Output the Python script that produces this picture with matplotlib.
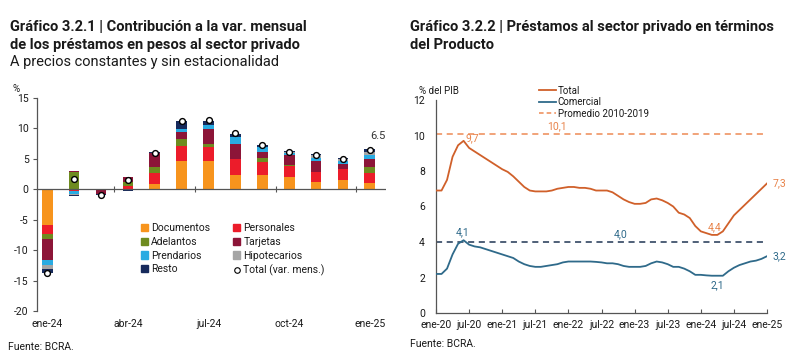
import matplotlib
matplotlib.use("Agg")
import matplotlib.pyplot as plt
import numpy as np
from matplotlib.patches import Patch
from matplotlib.lines import Line2D

plt.rcParams['font.family'] = ['Roboto', 'DejaVu Sans']

# ---------------- Data: left chart ----------------
meses = ['ene-24', 'feb-24', 'mar-24', 'abr-24', 'may-24', 'jun-24', 'jul-24',
         'ago-24', 'sep-24', 'oct-24', 'nov-24', 'dic-24', 'ene-25']
documentos = [-5.8, 0.0, 0.0, 0.1, 0.9, 4.7, 4.6, 2.3, 2.3, 2.0, 1.2, 1.6, 1.0]
personales = [-1.6, -0.2, -0.1, 0.5, 1.8, 2.4, 2.3, 2.6, 2.2, 1.9, 1.6, 1.7, 1.7]
adelantos = [-0.8, 2.8, 0.0, 0.6, 0.9, 1.2, 0.5, 0.0, 0.6, 0.1, 0.0, 0.0, 1.0]
tarjetas = [-3.5, 0.2, -0.6, 0.8, 2.4, 1.1, 2.5, 2.6, 1.1, 1.6, 1.9, 0.9, 1.2]
prendarios = [-0.8, -0.5, -0.1, 0.0, 0.0, 0.5, 0.7, 1.1, 0.7, 0.4, 0.5, 0.4, 0.8]
hipotecarios = [-0.6, -0.2, 0.0, 0.0, 0.0, 0.0, 0.0, 0.0, 0.0, 0.1, 0.4, 0.4, 0.4]
resto = [-0.6, -0.2, -0.1, -0.3, 0.2, 1.4, 0.6, 0.5, 0.3, 0.2, 0.2, 0.1, 0.5]
total_var = [-13.8, 1.7, -0.9, 1.5, 6.0, 11.3, 11.4, 9.2, 7.3, 6.1, 5.7, 4.9, 6.5]

series_names = ['Documentos', 'Personales', 'Adelantos', 'Tarjetas',
                'Prendarios', 'Hipotecarios', 'Resto']
series_vals = [documentos, personales, adelantos, tarjetas, prendarios,
               hipotecarios, resto]
series_cols = ['#F7941D', '#EC1C2A', '#6E8B1F', '#8C1538', '#29ABE2',
               '#A5A5A5', '#172A5C']
left_yticks = [15, 10, 5, 0, -5, -10, -15, -20]
left_xlabels_idx = [0, 3, 6, 9, 12]

# ---------------- Data: right chart ----------------
total_pib = [6.9, 6.9, 7.5, 8.8, 9.45, 9.7, 9.3, 9.1, 8.9, 8.7, 8.5, 8.3,
             8.1, 7.95, 7.7, 7.4, 7.1, 6.9, 6.85, 6.85, 6.85, 6.9, 7.0, 7.05,
             7.1, 7.1, 7.05, 7.05, 7.0, 6.9, 6.9, 6.9, 6.8, 6.6, 6.4, 6.25,
             6.15, 6.15, 6.2, 6.4, 6.45, 6.35, 6.2, 6.0, 5.65, 5.55, 5.35, 4.9,
             4.6, 4.5, 4.4, 4.4, 4.6, 5.05, 5.5, 5.8, 6.1, 6.4, 6.7, 7.0,
             7.3]
comercial_pib = [2.2, 2.2, 2.5, 3.3, 3.9, 4.1, 3.85, 3.75, 3.7, 3.6, 3.5, 3.4,
                 3.3, 3.2, 3.1, 2.9, 2.75, 2.65, 2.6, 2.6, 2.65, 2.7, 2.75, 2.85,
                 2.9, 2.9, 2.9, 2.9, 2.9, 2.88, 2.85, 2.8, 2.8, 2.75, 2.65, 2.6,
                 2.6, 2.6, 2.65, 2.8, 2.9, 2.85, 2.75, 2.6, 2.6, 2.5, 2.35, 2.15,
                 2.15, 2.12, 2.1, 2.1, 2.1, 2.35, 2.55, 2.7, 2.8, 2.9, 2.95, 3.05,
                 3.2]
prom_total = 10.1
prom_comercial = 4.0
right_xlabels = ['ene-20', 'jul-20', 'ene-21', 'jul-21', 'ene-22', 'jul-22',
                 'ene-23', 'jul-23', 'ene-24', 'jul-24', 'ene-25']
right_yticks = [0, 2, 4, 6, 8, 10, 12]

# ---------------- Figure ----------------
W, H = 800, 361
fig = plt.figure(figsize=(W / 100, H / 100), dpi=100)

def ax_rect(x0, x1, ytop, ybot):
    return [x0 / W, 1 - ybot / H, (x1 - x0) / W, (ybot - ytop) / H]

txtc = '#1a1a1a'
fig.text(10 / W, 1 - 27 / H, 'Gráfico 3.2.1 | Contribución a la var. mensual',
         fontsize=10.5, fontweight='bold', va='center', color=txtc)
fig.text(10 / W, 1 - 45 / H, 'de los préstamos en pesos al sector privado',
         fontsize=10.5, fontweight='bold', va='center', color=txtc)
fig.text(10 / W, 1 - 62 / H, 'A precios constantes y sin estacionalidad',
         fontsize=10.5, va='center', color=txtc)
fig.text(410 / W, 1 - 27 / H, 'Gráfico 3.2.2 | Préstamos al sector privado en términos',
         fontsize=10.5, fontweight='bold', va='center', color=txtc)
fig.text(410 / W, 1 - 45 / H, 'del Producto',
         fontsize=10.5, fontweight='bold', va='center', color=txtc)
fig.text(8 / W, 1 - 347 / H, 'Fuente: BCRA.', fontsize=7.5, va='center', color=txtc)
fig.text(410 / W, 1 - 344 / H, 'Fuente: BCRA.', fontsize=7.5, va='center', color=txtc)

# ---------------- Left chart ----------------
ax1 = fig.add_axes(ax_rect(37, 386, 98, 311))
x = np.arange(len(meses))
pos_base = np.zeros(len(meses))
neg_base = np.zeros(len(meses))
for name, vals, col in zip(series_names, series_vals, series_cols):
    v = np.array(vals, dtype=float)
    pos = np.where(v > 0, v, 0)
    neg = np.where(v < 0, v, 0)
    ax1.bar(x, pos, bottom=pos_base, width=0.4, color=col, linewidth=0, zorder=2)
    ax1.bar(x, neg, bottom=neg_base, width=0.4, color=col, linewidth=0, zorder=2)
    pos_base += pos
    neg_base += neg
ax1.plot(x, total_var, 'o', ms=4.2, mfc='white', mec='black', mew=1.0, zorder=4)
ax1.annotate(f'{total_var[-1]:.1f}', (x[-1], total_var[-1]), xytext=(6, 6),
             textcoords='offset points', ha='center', va='bottom',
             fontsize=8, color='#333333')
ax1.axhline(0, color='#555555', lw=0.9, zorder=3)
# quarter separators on the zero line
sep = np.array([2.5, 5.5, 8.5, 11.5])
ax1.plot(sep, np.zeros_like(sep), marker='|', ls='none', ms=4, color='#555555',
         mew=0.8, zorder=3)
ax1.set_xlim(-0.38, 12.6)
ax1.set_ylim(-20, 15)
ax1.set_yticks(left_yticks)
ax1.set_yticklabels([str(t) for t in left_yticks], fontsize=7.5, color=txtc)
ax1.set_xticks(x[left_xlabels_idx])
ax1.set_xticklabels([meses[i] for i in left_xlabels_idx], fontsize=7.5, color=txtc)
ax1.tick_params(axis='x', length=0, pad=6)
ax1.tick_params(axis='y', length=3, width=0.8, color='#555555', pad=3)
for s in ['top', 'right', 'bottom']:
    ax1.spines[s].set_visible(False)
ax1.spines['left'].set_color('#555555')
ax1.spines['left'].set_linewidth(0.9)
ax1.text(-0.07, 1.02, '%', transform=ax1.transAxes, fontsize=7, color=txtc,
         ha='left', va='bottom')

handles = [Patch(color=c, label=n) for n, c in zip(series_names, series_cols)]
handles.append(Line2D([], [], marker='o', ls='none', ms=4, mfc='white',
                      mec='black', mew=0.8, label='Total (var. mens.)'))
order = [0, 2, 4, 6, 1, 3, 5, 7]
leg = ax1.legend([handles[i] for i in order], [handles[i].get_label() for i in order],
                 ncol=2, loc='upper left', bbox_to_anchor=(0.27, 0.455),
                 frameon=False, fontsize=7.5, handlelength=0.7, handleheight=0.7,
                 handletextpad=0.3, columnspacing=2.2, labelspacing=0.35)
for t in leg.get_texts():
    t.set_color(txtc)

# ---------------- Right chart ----------------
ax2 = fig.add_axes(ax_rect(436, 767, 100, 313))
m = np.arange(len(total_pib))
c_tot = '#D0602A'
c_com = '#2F6A8A'
ax2.axhline(prom_total, color='#EE8A55', lw=1.1, ls=(0, (4, 3)), zorder=1)
ax2.axhline(prom_comercial, color='#1F3554', lw=1.1, ls=(0, (4, 3)), zorder=1)
ax2.plot(m, total_pib, color=c_tot, lw=1.3, zorder=3)
ax2.plot(m, comercial_pib, color=c_com, lw=1.3, zorder=3)
ax2.set_xlim(0, len(total_pib) - 1)
ax2.set_ylim(0, 12)
ax2.set_yticks(right_yticks)
ax2.set_yticklabels([str(t) for t in right_yticks], fontsize=7.5, color=txtc)
ax2.set_xticks(m[::6])
ax2.set_xticklabels(right_xlabels, fontsize=7.5, color=txtc)
ax2.tick_params(axis='x', direction='in', length=3, width=0.8, color='#555555', pad=5)
ax2.tick_params(axis='y', length=0, pad=8)
for s in ['top', 'right']:
    ax2.spines[s].set_visible(False)
for s in ['left', 'bottom']:
    ax2.spines[s].set_color('#555555')
    ax2.spines[s].set_linewidth(0.9)
ax2.text(-0.05, 1.02, '% del PIB', transform=ax2.transAxes, fontsize=7,
         color=txtc, ha='left', va='bottom')

def fmt(v):
    return f'{v:.1f}'.replace('.', ',')

it = int(np.argmax(total_pib))
ax2.annotate(fmt(total_pib[it]), (m[it], total_pib[it]), xytext=(6, -2),
             textcoords='offset points', fontsize=7.5, color='#E8834A',
             ha='center', va='bottom')
ic = int(np.argmax(comercial_pib))
ax2.annotate(fmt(comercial_pib[ic]), (m[ic], comercial_pib[ic]), xytext=(-1, 2),
             textcoords='offset points', fontsize=7.5, color=c_com,
             ha='center', va='bottom')
itm = int(np.argmin(total_pib))
ax2.annotate(fmt(min(total_pib)), (m[itm] + 0.5, min(total_pib)), xytext=(0, 2),
             textcoords='offset points', fontsize=7.5, color='#E8834A',
             ha='center', va='bottom')
icm = int(np.argmin(comercial_pib))
ax2.annotate(fmt(min(comercial_pib)), (m[icm] + 1, min(comercial_pib)), xytext=(0, -3),
             textcoords='offset points', fontsize=7.5, color=c_com,
             ha='center', va='top')
ax2.annotate(fmt(total_pib[-1]), (m[-1], total_pib[-1]), xytext=(4, 0),
             textcoords='offset points', fontsize=7.5, color='#E8834A',
             ha='left', va='center')
ax2.annotate(fmt(comercial_pib[-1]), (m[-1], comercial_pib[-1]), xytext=(4, 0),
             textcoords='offset points', fontsize=7.5, color=c_com,
             ha='left', va='center')
ax2.annotate(fmt(prom_total), (22, prom_total), xytext=(0, 2),
             textcoords='offset points', fontsize=7.5, color='#E8834A',
             ha='center', va='bottom')
ax2.annotate(fmt(prom_comercial), (33.5, prom_comercial), xytext=(0, 2),
             textcoords='offset points', fontsize=7.5, color=c_com,
             ha='center', va='bottom')

lh = [Line2D([], [], color=c_tot, lw=1.3),
      Line2D([], [], color=c_com, lw=1.3),
      Line2D([], [], color='#EE8A55', lw=1.1, ls=(0, (3, 2)))]
leg2 = ax2.legend(lh, ['Total', 'Comercial', 'Promedio 2010-2019'],
                  loc='upper left', bbox_to_anchor=(0.3, 1.085), frameon=False,
                  fontsize=7, handlelength=1.7, handletextpad=0.2,
                  labelspacing=0.15, borderaxespad=0)
for t in leg2.get_texts():
    t.set_color(txtc)

fig.savefig('out.png', dpi=100)
